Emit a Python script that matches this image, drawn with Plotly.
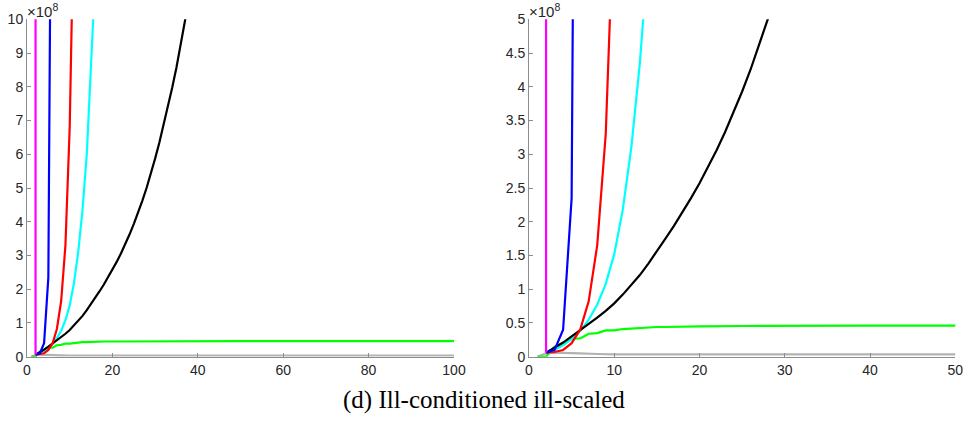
import plotly.graph_objects as go

# ---- data (values in units of 1e8) ----
x_magenta = [2, 3]
magenta = [0.06, 1.0e6]

x_blue = [2, 3, 4, 5, 6]
blue = [0.06, 0.1, 0.4, 2.35, 22.0]

x_red = [2, 3, 4, 5, 6, 7, 8, 9, 10, 11, 12]
red = [0.06, 0.07, 0.1, 0.2, 0.4, 0.82, 1.65, 3.3, 6.8, 13.5, 27.0]

x_cyan = [2, 3, 4, 5, 6, 7, 8, 9, 10, 11, 12, 13, 14, 15, 16, 17]
cyan = [0.06, 0.1, 0.17, 0.26, 0.38, 0.55, 0.77, 1.08, 1.52, 2.18, 3.1, 4.35,
        6.0, 8.15, 10.8, 14.0]

x_black = [2, 3, 4, 5, 6, 7, 8, 9, 10, 11, 12, 13, 14, 15, 16, 17, 18, 19, 20,
           21, 22, 23, 24, 25, 26, 27, 28, 29, 30, 31, 32, 33, 34, 35, 36, 37, 38]
black = [0.06, 0.13, 0.21, 0.3, 0.39, 0.48, 0.58, 0.68, 0.79, 0.92, 1.06, 1.21,
         1.38, 1.56, 1.75, 1.94, 2.14, 2.35, 2.57, 2.81, 3.06, 3.33, 3.62, 3.93,
         4.26, 4.62, 5.0, 5.42, 5.87, 6.35, 6.86, 7.4, 7.97, 8.57, 9.22, 9.92, 10.65]

x_green = [1, 2, 3, 4, 5, 6, 7, 8, 9, 10, 11, 12, 13, 14, 15, 16, 17, 18, 20,
           25, 30, 40, 50, 60, 70, 80, 90, 100]
green = [0.0, 0.0, 0.15, 0.2, 0.27, 0.27, 0.34, 0.35, 0.39, 0.39, 0.41, 0.42,
         0.43, 0.43, 0.44, 0.44, 0.445, 0.45, 0.45, 0.455, 0.46, 0.46, 0.46,
         0.46, 0.46, 0.46, 0.46, 0.46]

x_gray = [1, 2, 3, 4, 5, 6, 8, 10, 20, 50, 100]
gray = [0.0, 0.05, 0.06, 0.06, 0.055, 0.05, 0.04, 0.035, 0.035, 0.035, 0.035]

left_xticks = [0, 20, 40, 60, 80, 100]
left_yticks = [0, 1, 2, 3, 4, 5, 6, 7, 8, 9, 10]
right_xticks = [0, 10, 20, 30, 40, 50]
right_yticks = [0, 0.5, 1, 1.5, 2, 2.5, 3, 3.5, 4, 4.5, 5]
right_yticklabels = ["0", "0.5", "1", "1.5", "2", "2.5", "3", "3.5", "4", "4.5", "5"]

caption = "(d) Ill-conditioned ill-scaled"

series = [
    (x_gray, gray, "#b3b3b3"),
    (x_green, green, "#00ff00"),
    (x_cyan, cyan, "#00ffff"),
    (x_black, black, "#000000"),
    (x_red, red, "#ff0000"),
    (x_blue, blue, "#0000ff"),
    (x_magenta, magenta, "#ff00ff"),
]

W, H = 964, 423
fig = go.Figure()
for xa, ya in [("x", "y"), ("x2", "y2")]:
    for xs, ys, col in series:
        fig.add_trace(go.Scatter(x=xs, y=ys, mode="lines", xaxis=xa, yaxis=ya,
                                 line=dict(color=col, width=2.2),
                                 showlegend=False, hoverinfo="skip"))

ydom = [(H - 356.7) / H, (H - 19.3) / H]
axis_common = dict(showgrid=False, zeroline=False, showline=True,
                   linecolor="#8c8c8c", linewidth=1, ticks="inside",
                   ticklen=4, tickcolor="#8c8c8c", mirror=False,
                   automargin=False,
                   tickfont=dict(family="Liberation Sans, Arial", size=14,
                                 color="#262626"))

fig.update_layout(
    width=W, height=H,
    margin=dict(l=0, r=0, t=0, b=0),
    paper_bgcolor="white", plot_bgcolor="white",
    xaxis=dict(domain=[27 / W, 454 / W], range=[0, 100], tickvals=left_xticks,
               anchor="y", **axis_common),
    yaxis=dict(domain=ydom, range=[0, 10], tickvals=left_yticks,
               anchor="x", **axis_common),
    xaxis2=dict(domain=[529 / W, 955.3 / W], range=[0, 50], tickvals=right_xticks,
                anchor="y2", **axis_common),
    yaxis2=dict(domain=ydom, range=[0, 5], tickvals=right_yticks,
                ticktext=right_yticklabels, anchor="x2", **axis_common),
)

for xpos in [27 / W, 529 / W]:
    fig.add_annotation(text="×10<sup>8</sup>", xref="paper", yref="paper",
                       x=xpos, y=ydom[1], xanchor="left", yanchor="bottom",
                       yshift=-3, xshift=-2, showarrow=False,
                       font=dict(family="Liberation Sans, Arial", size=15,
                                 color="#262626"))

fig.add_annotation(text=caption, xref="paper", yref="paper",
                   x=484 / W, y=(H - 400) / H, xanchor="center", yanchor="middle",
                   showarrow=False,
                   font=dict(family="Liberation Serif, serif", size=25, color="black"))

fig.write_html("out.html")
